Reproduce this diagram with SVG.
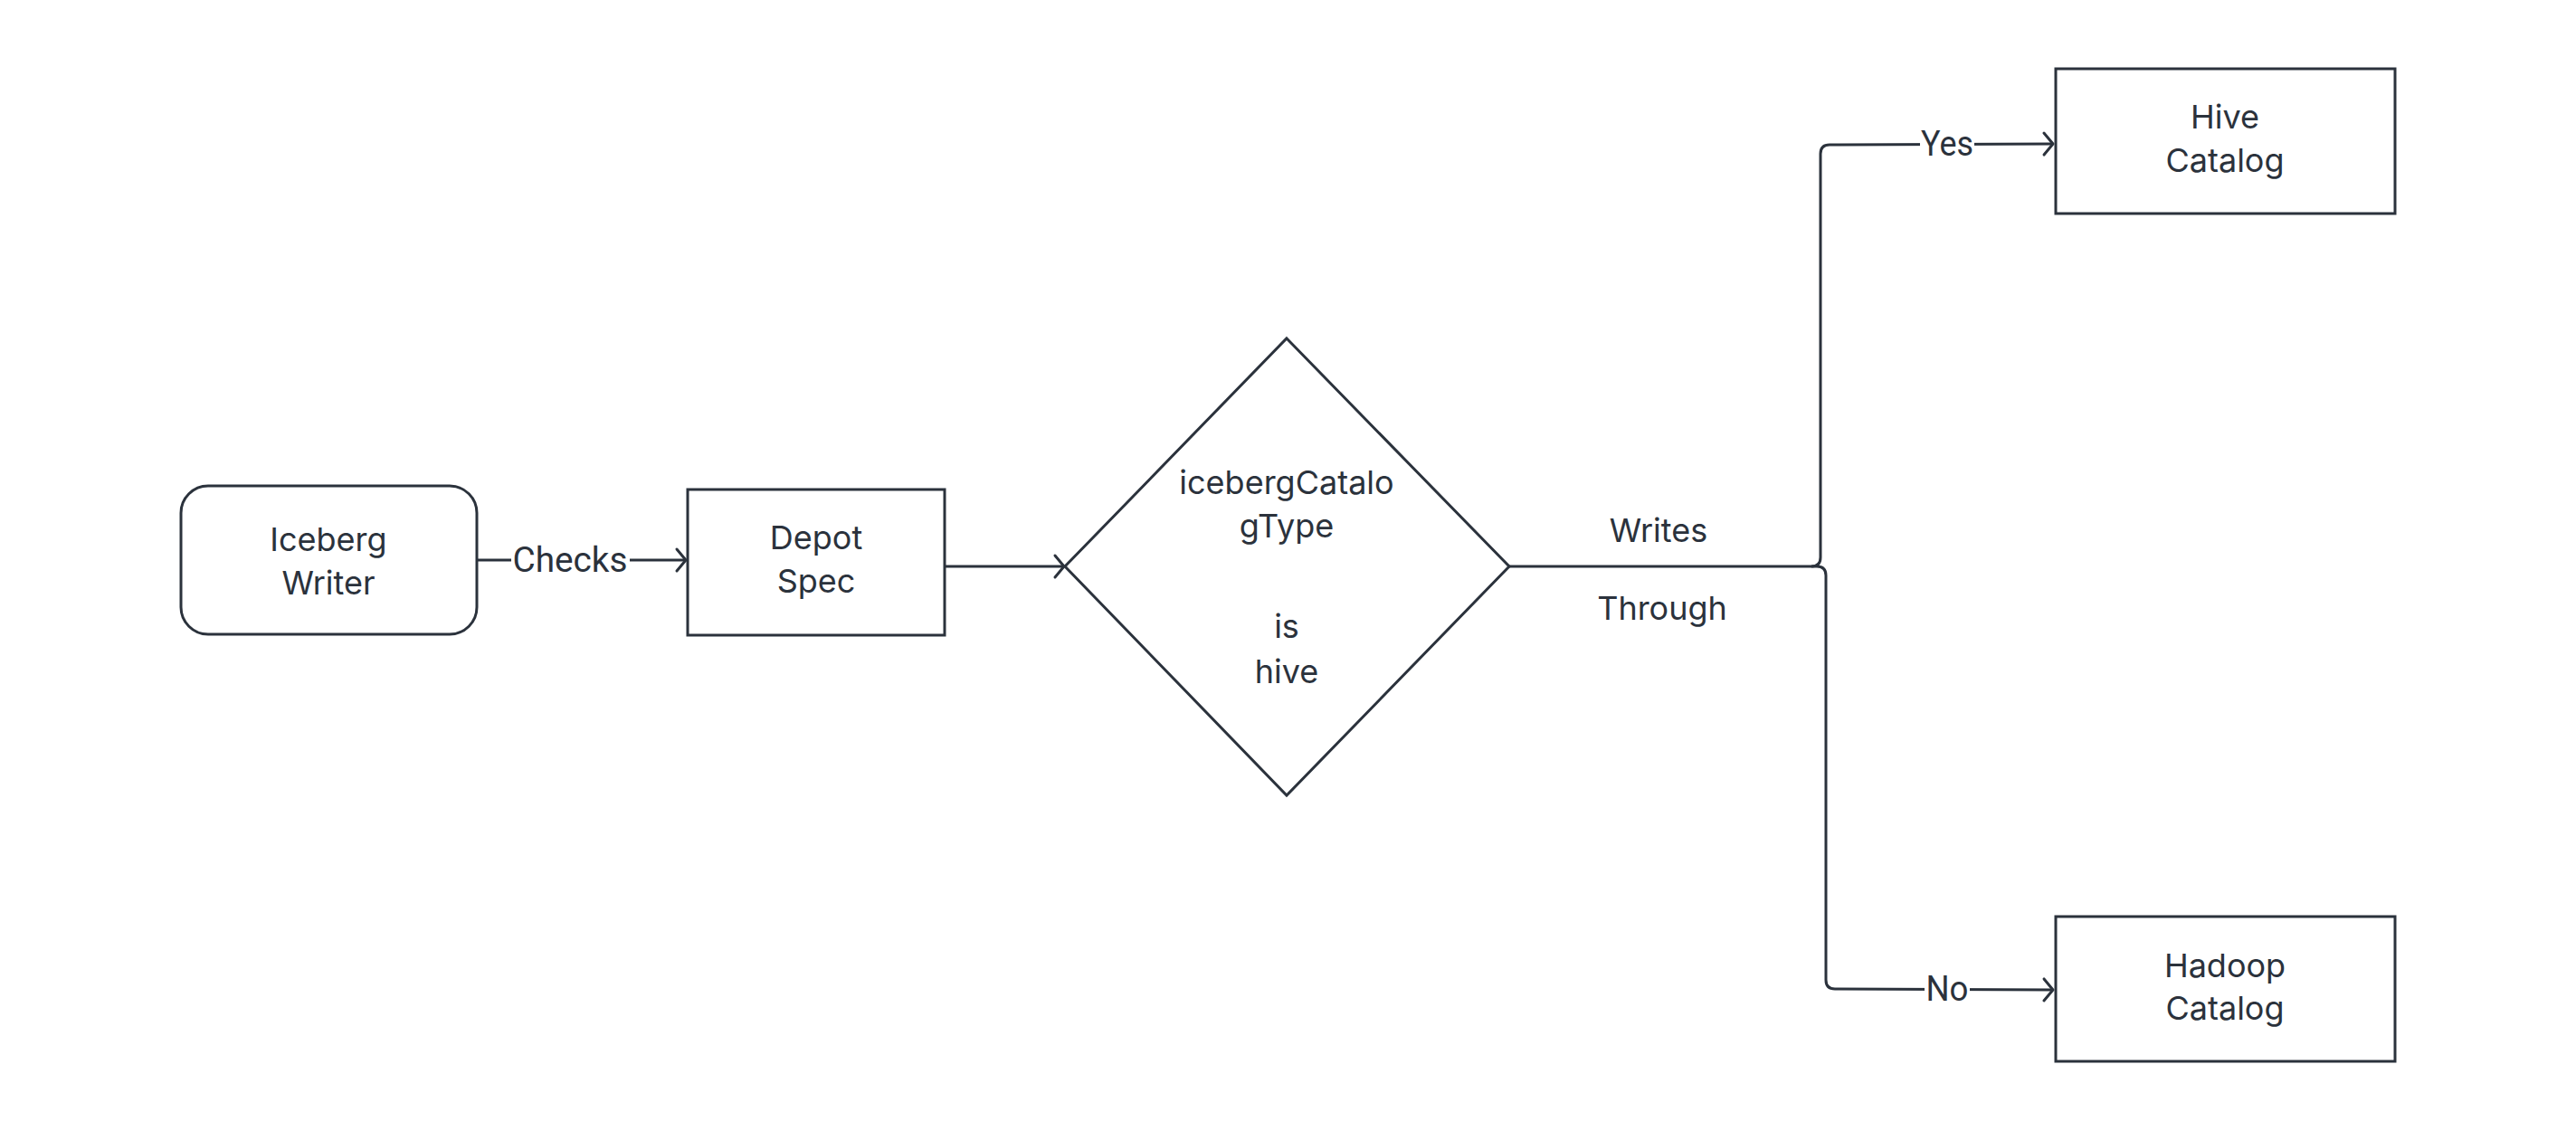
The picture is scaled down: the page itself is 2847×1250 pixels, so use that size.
<svg xmlns="http://www.w3.org/2000/svg" width="2847" height="1250" viewBox="0 0 2847 1250">
<style>
.node{fill:#ffffff;stroke:#2b323c;stroke-width:3}
.t{font-family:Inter,"Noto Sans",sans-serif;font-size:36px;fill:#2b323c;text-anchor:middle}
.lbl{font-family:Roboto,"Liberation Sans",sans-serif;font-size:38px;fill:#2b323c;text-anchor:middle}
.edge{fill:none;stroke:#2b323c;stroke-width:3}
</style>
<defs>
<marker id="arr" markerUnits="userSpaceOnUse" viewBox="-13 -16 16 32" refX="0" refY="0" markerWidth="16" markerHeight="32" orient="auto">
<path d="M-10,-12 L0,0 L-10,12" fill="none" stroke="#2b323c" stroke-width="3" stroke-linecap="round" stroke-linejoin="round"/>
</marker>
</defs>
<rect width="2847" height="1250" fill="#ffffff"/>
<g id="connectors">
<path class="edge" d="M527,619 L758,619" marker-end="url(#arr)"/>
<path class="edge" d="M1044,626 L1176,626" marker-end="url(#arr)"/>
<path class="edge" d="M1668,626 L2002,626 Q2012,626 2012,616 L2012,170 Q2012,160 2022,160 L2269,159" marker-end="url(#arr)"/>
<path class="edge" d="M2002,626 L2008,626 Q2018,626 2018,636 L2018,1083 Q2018,1093 2028,1093 L2269,1094" marker-end="url(#arr)"/>
<rect x="565" y="595" width="131" height="46" fill="#ffffff"/>
<text class="lbl" x="630" y="632" textLength="127" lengthAdjust="spacingAndGlyphs">Checks</text>
<rect x="2122" y="136" width="60" height="46" fill="#ffffff"/>
<text class="lbl" x="2152" y="172" textLength="58" lengthAdjust="spacingAndGlyphs">Yes</text>
<rect x="2127" y="1070" width="50" height="46" fill="#ffffff"/>
<text class="lbl" x="2152" y="1106" textLength="47" lengthAdjust="spacingAndGlyphs">No</text>
<text class="t" x="1833" y="599">Writes</text>
<text class="t" x="1837" y="685">Through</text>
</g>
<g id="iceberg-writer">
<rect class="node" x="200" y="537" width="327" height="164" rx="30" ry="30"/>
<text class="t" x="363" y="609">Iceberg</text>
<text class="t" x="363" y="657">Writer</text>
</g>
<g id="depot-spec">
<rect class="node" x="760" y="541" width="284" height="161"/>
<text class="t" x="902" y="607">Depot</text>
<text class="t" x="902" y="655">Spec</text>
</g>
<g id="decision">
<polygon class="node" points="1422,374 1668,626 1422,879 1177,626"/>
<text class="t" x="1422" y="546">icebergCatalo</text>
<text class="t" x="1422" y="594">gType</text>
<text class="t" x="1422" y="705">is</text>
<text class="t" x="1422" y="755">hive</text>
</g>
<g id="hive-catalog">
<rect class="node" x="2272" y="76" width="375" height="160"/>
<text class="t" x="2459" y="142">Hive</text>
<text class="t" x="2459" y="190">Catalog</text>
</g>
<g id="hadoop-catalog">
<rect class="node" x="2272" y="1013" width="375" height="160"/>
<text class="t" x="2459" y="1080">Hadoop</text>
<text class="t" x="2459" y="1127">Catalog</text>
</g>
</svg>
